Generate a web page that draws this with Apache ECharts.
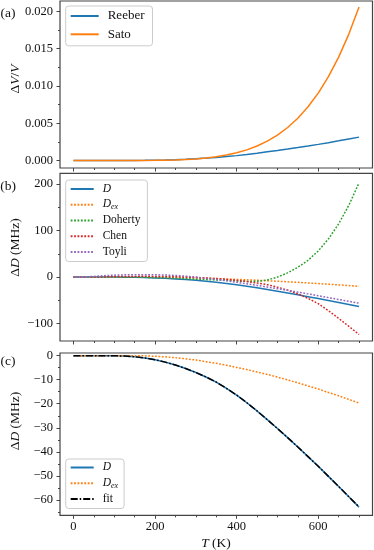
<!DOCTYPE html>
<html><head><meta charset="utf-8">
<script src="https://cdn.jsdelivr.net/npm/echarts@6/dist/echarts.min.js"></script>
<style>html,body{margin:0;padding:0;background:#fff}#c{width:374px;height:550px}</style>
</head><body><div id="c"></div><script>
// ---- data ----
const T = [0,25,50,75,100,125,150,175,200,225,250,275,300,325,350,375,400,425,450,475,500,525,550,575,600,625,650,675,700];
const reeber = [0,0,0,0.000001,0.000003,0.000007,0.000015,0.00003,0.00005,0.00008,0.00012,0.00018,0.00025,0.00033,0.00042,0.00053,0.00066,0.00082,0.00099,0.00117,0.00135,0.00154,0.00174,0.00195,0.00217,0.0024,0.00264,0.00289,0.00314];
const sato = [0,0,0,0,0.000001,0.000002,0.000005,0.000012,0.000026,0.00005,0.000084,0.000142,0.000223,0.000343,0.000509,0.000735,0.00104,0.00143,0.00195,0.0026,0.00342,0.00443,0.00568,0.00721,0.00904,0.01125,0.01387,0.01696,0.0206];
const dTotal = [0,0,0,-0.01,-0.05,-0.15,-0.45,-0.95,-1.7,-2.7,-3.9,-5.35,-7.0,-8.9,-11.0,-13.6,-16.4,-19.6,-23.0,-26.6,-30.3,-34.1,-38.0,-42.0,-46.0,-50.2,-54.4,-58.7,-63.0];
const dEx = [0,0,0,0,0,0,-0.03,-0.1,-0.25,-0.5,-0.85,-1.3,-1.85,-2.5,-3.2,-4.0,-4.9,-5.8,-6.8,-7.8,-8.9,-10.1,-11.3,-12.6,-13.9,-15.3,-16.7,-18.2,-19.7];
const doherty = [0,0,0,0,0,-0.1,-0.3,-0.6,-1.1,-1.7,-2.5,-3.4,-4.4,-5.3,-6.1,-7.0,-8.3,-9.3,-9.0,-6.3,0,9,21,36,56,82,114,154,202];
const chen = [0,0.1,0.3,0.6,1.0,1.3,1.5,1.6,1.5,1.2,0.8,0.1,-0.8,-1.9,-3.2,-4.9,-7.0,-9.5,-12.5,-16.3,-21.5,-28,-36,-45.5,-57,-72,-88.5,-105.5,-123];
const toyli = [0,0.3,1.5,3.0,4.2,4.8,5.0,5.1,5.0,4.5,3.5,2.0,0,-2.5,-5.0,-8.0,-11.0,-14.3,-17.8,-21.3,-24.8,-28.4,-32.2,-36.0,-40.0,-44.0,-48.0,-52.0,-56.0];
const fit = [0,0,0,-0.01,-0.05,-0.15,-0.45,-0.95,-1.7,-2.7,-3.9,-5.35,-7.0,-8.9,-11.0,-13.6,-16.4,-19.6,-23.0,-26.6,-30.3,-34.1,-38.0,-42.0,-46.0,-50.2,-54.4,-58.7,-62.9];

const xMajor = [0,200,400,600];
const xMinor = [0,50,100,150,200,250,300,350,400,450,500,550,600,650,700];
const yMajorA = [0,0.005,0.01,0.015,0.02];
const yMinorA = [0.0025,0.0075,0.0125,0.0175];
const yMajorB = [-100,0,100,200];
const yMinorB = [-50,50,150];
const yMajorC = [-60,-50,-40,-30,-20,-10,0];
const yMinorC = [-65,-55,-45,-35,-25,-15,-5];

// ---- style ----
const FONT = 'Liberation Serif';
const FRAME = '#444';
const C = {blue:'#1f77b4', orange:'#ff7f0e', green:'#2ca02c', red:'#d62728', purple:'#9467bd'};
const DOT = [1.8, 1.6];

const rects = [
  {left:60, top:1, width:312.5, height:167},
  {left:60, top:173.3, width:312.5, height:167.7},
  {left:60, top:353, width:312.5, height:162.3}
];
const yRanges = [[-0.001, 0.0214], [-137, 222.5], [-66.4, 1.1]];
const yMajors = [yMajorA, yMajorB, yMajorC];
const yMinors = [yMinorA, yMinorB, yMinorC];
const minus = v => String(v).replace('-', '\u2212');
const yFmt = [v => v.toFixed(3), v => minus(v), v => minus(v)];

const grids = [], xAxes = [], yAxes = [];
for (let g = 0; g < 3; g++) {
  grids.push(Object.assign({show:true, borderColor:FRAME, borderWidth:1.2, backgroundColor:'transparent', outerBoundsMode:'none', containLabel:false}, rects[g]));
}
for (let g = 0; g < 3; g++) {
  grids.push(Object.assign({show:false, outerBoundsMode:'none', containLabel:false}, rects[g]));
}
function mkX(gi, ticks, len, labels) {
  return {type:'value', gridIndex:gi, min:-33, max:733, position:'bottom',
    axisLine:{show:false, onZero:false}, splitLine:{show:false}, minorTick:{show:false},
    axisTick:{show:true, inside:false, length:len, customValues:ticks, lineStyle:{color:FRAME, width:1}},
    axisLabel:{show:labels, customValues:ticks, margin:5, fontFamily:FONT, fontSize:12.5, color:'#111'}};
}
function mkY(gi, g, ticks, len, labels) {
  return {type:'value', gridIndex:gi, min:yRanges[g][0], max:yRanges[g][1], position:'left',
    axisLine:{show:false, onZero:false}, splitLine:{show:false}, minorTick:{show:false},
    axisTick:{show:true, inside:false, length:len, customValues:ticks, lineStyle:{color:FRAME, width:1}},
    axisLabel:{show:labels, customValues:ticks, margin:7, fontFamily:FONT, fontSize:12.5, color:'#111', formatter:yFmt[g]}};
}
for (let g = 0; g < 3; g++) { xAxes.push(mkX(g, xMajor, 3.5, g === 2)); yAxes.push(mkY(g, g, yMajors[g], 3.5, true)); }
for (let g = 0; g < 3; g++) { xAxes.push(mkX(g + 3, xMinor, 2, false)); yAxes.push(mkY(g + 3, g, yMinors[g], 2, false)); }

const pairs = ys => T.map((t, i) => [t, ys[i]]);
function line(name, ys, g, color, type, width) {
  return {type:'line', name, data:pairs(ys), xAxisIndex:g, yAxisIndex:g, symbol:'none', showSymbol:false,
    lineStyle:{color, width:width || 1.5, type:type || 'solid', cap:'butt'}, itemStyle:{color}, z:2, silent:true};
}
const series = [
  line('Reeber', reeber, 0, C.blue),
  line('Sato', sato, 0, C.orange),
  line('D', dTotal, 1, C.blue),
  line('Dex', dEx, 1, C.orange, DOT),
  line('Doherty', doherty, 1, C.green, DOT),
  line('Chen', chen, 1, C.red, DOT),
  line('Toyli', toyli, 1, C.purple, DOT),
  line('D', dTotal, 2, C.blue),
  line('Dex', dEx, 2, C.orange, DOT),
  line('fit', fit, 2, '#000', [7, 2, 1.5, 2])
];

const richL = fs => ({
  i:{fontFamily:FONT, fontStyle:'italic', fontSize:fs, lineHeight:13, verticalAlign:'top'},
  s:{fontFamily:FONT, fontStyle:'italic', fontSize:8, lineHeight:8, padding:[5,0,0,0], verticalAlign:'top'},
  n:{fontFamily:FONT, fontSize:fs, lineHeight:13, verticalAlign:'top'}
});
const legFmt = name => name === 'D' ? '{i|D}' : name === 'Dex' ? '{i|D}{s|ex}' : '{n|' + name + '}';
function legend(data, left, top, fs, itemW, gap, pad) {
  return {data, left, top, orient:'vertical', itemWidth:itemW, itemHeight:8, itemGap:gap, padding:pad,
    backgroundColor:'rgba(255,255,255,0.85)', borderColor:'#cccccc', borderWidth:1, borderRadius:3,
    formatter:legFmt, selectedMode:false,
    itemStyle:{color:'rgba(0,0,0,0)', borderColor:'rgba(0,0,0,0)', borderWidth:0, opacity:0},
    textStyle:{fontFamily:FONT, fontSize:fs, color:'#111', lineHeight:13, padding:[0,0,0,4], rich:richL(fs)}};
}
const legends = [
  legend(['Reeber', 'Sato'], 65.7, 6, 13, 28, 5.3, [3.5, 8, 5, 4]),
  legend(['D', 'Dex', 'Doherty', 'Chen', 'Toyli'], 65.7, 180, 11.5, 23, 2.75, [2.5, 7, 3, 4]),
  legend(['D', 'Dex', 'fit'], 65.7, 459, 11.5, 23, 2.75, [2, 6, 3, 4])
];

const richT = {
  n:{fontFamily:FONT, fontSize:13.5, fill:'#111'},
  i:{fontFamily:FONT, fontSize:13.5, fontStyle:'italic', fill:'#111'}
};
function txt(text, x, y, rot) {
  return {type:'text', x, y, rotation:rot || 0, silent:true,
    style:{text, rich:richT, font:'13.5px ' + FONT, fill:'#111', align:'center', verticalAlign:'middle'}};
}
const graphics = [
  txt('{n|(a)}', 8, 13),
  txt('{n|(b)}', 8, 186),
  txt('{n|(c)}', 8, 361),
  txt('{n|\u0394}{i|V}{n|/}{i|V}', 15, 79, Math.PI / 2),
  txt('{n|\u0394}{i|D}{n| (MHz)}', 15, 247.5, Math.PI / 2),
  txt('{n|\u0394}{i|D}{n| (MHz)}', 15, 421, Math.PI / 2),
  txt('{i|T}{n| (K)}', 216, 543)
];

const chart = echarts.init(document.getElementById('c'), null, {renderer:'canvas'});
chart.setOption({
  animation:false,
  backgroundColor:'#fff',
  grid:grids, xAxis:xAxes, yAxis:yAxes, series, legend:legends, graphic:graphics
});
</script></body></html>
